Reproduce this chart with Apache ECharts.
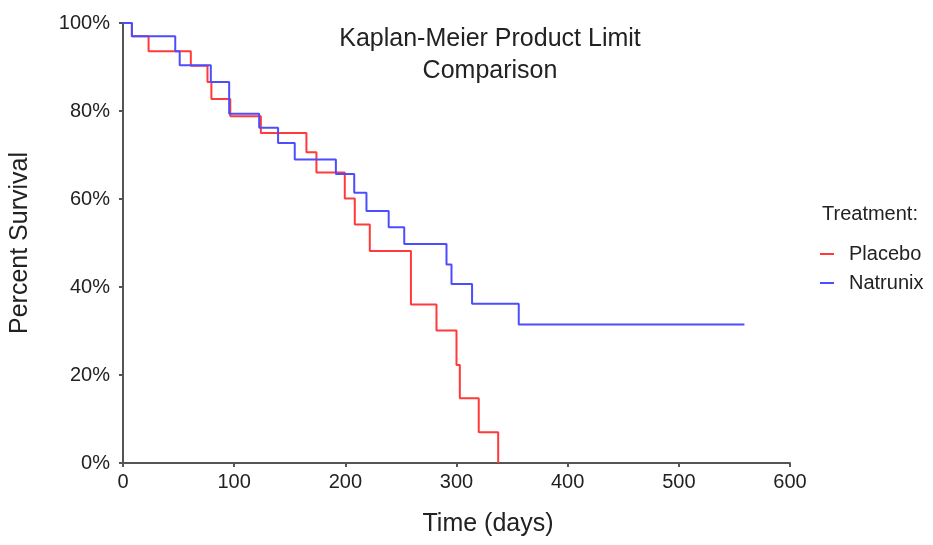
<!DOCTYPE html>
<html>
<head>
<meta charset="utf-8">
<script src="https://cdn.jsdelivr.net/npm/echarts@6/dist/echarts.min.js"></script>
<style>
  html, body { margin: 0; padding: 0; background: #fff; }
  #km-chart { width: 933px; height: 545px; }
</style>
</head>
<body>
<div id="km-chart"></div>
<script>
// survival step points: [day, percent surviving after the event]
var placeboDays = [0, 8, 23, 61, 76, 79.5, 96.5, 124, 165, 174, 199.5, 208.5, 222, 259, 282, 300, 303, 320, 337.5];
var placeboSurv = [100, 97.0, 93.6, 90.3, 86.6, 82.7, 78.8, 75.0, 70.6, 66.0, 60.1, 54.2, 48.2, 36.0, 30.1, 22.3, 14.7, 7.0, 0];

var natrunixDays = [0, 8, 47, 51, 79, 95.5, 122.5, 139.5, 154.5, 191.5, 208, 219, 239, 253, 291, 295.5, 314, 356, 559];
var natrunixSurv = [100, 97.0, 93.6, 90.4, 86.6, 79.4, 76.2, 72.7, 69.0, 65.7, 61.4, 57.3, 53.6, 49.8, 45.1, 40.7, 36.2, 31.5, 31.5];

var xTicks = [0, 100, 200, 300, 400, 500, 600];
var yTicks = [0, 20, 40, 60, 80, 100];

function pairs(xs, ys) {
  return xs.map(function (x, i) {
    return [x, ys[i]];
  });
}

var fontName = "Liberation Sans";
var chart = echarts.init(document.getElementById("km-chart"));

var option = {
  animation: false,
  backgroundColor: "#ffffff",
  grid: {
    left: 122,
    right: 143,
    top: 23,
    bottom: 82,
  },
  graphic: [
    {
      type: "text",
      x: 490,
      y: 23,
      style: {
        text: "Kaplan-Meier Product Limit\nComparison",
        font: "25px " + fontName,
        fill: "#222",
        textAlign: "center",
        lineHeight: 32,
      },
    },
    {
      type: "text",
      x: 488,
      y: 512,
      style: {
        text: "Time (days)",
        font: "25px " + fontName,
        fill: "#222",
        textAlign: "center",
      },
    },
    {
      type: "text",
      x: 822,
      y: 204,
      style: {
        text: "Treatment:",
        font: "20px " + fontName,
        fill: "#222",
      },
    },
  ],
  legend: {
    orient: "vertical",
    left: 815,
    top: 239,
    itemWidth: 14,
    itemHeight: 2,
    itemGap: 9,
    icon: "rect",
    textStyle: {
      fontFamily: fontName,
      fontSize: 20,
      color: "#222",
      padding: [0, 0, 0, 10],
    },
    data: ["Placebo", "Natrunix"],
  },
  xAxis: {
    type: "value",
    min: 0,
    max: 600,
    interval: 100,
    axisLine: { show: true, lineStyle: { color: "#555", width: 2 } },
    axisTick: { show: true, length: 4, lineStyle: { color: "#555", width: 2 } },
    axisLabel: {
      margin: 9,
      fontFamily: fontName,
      fontSize: 20,
      color: "#222",
      customValues: xTicks,
    },
    splitLine: { show: false },
  },
  yAxis: {
    type: "value",
    min: 0,
    max: 100,
    interval: 20,
    name: "Percent Survival",
    nameLocation: "middle",
    nameGap: 90,
    nameTextStyle: {
      fontFamily: fontName,
      fontSize: 25,
      color: "#222",
    },
    axisLine: { show: true, lineStyle: { color: "#555", width: 2 } },
    axisTick: { show: true, length: 4, lineStyle: { color: "#555", width: 2 } },
    axisLabel: {
      margin: 13,
      fontFamily: fontName,
      fontSize: 20,
      color: "#222",
      formatter: "{value}%",
    },
    splitLine: { show: false },
  },
  series: [
    {
      name: "Placebo",
      type: "line",
      step: "end",
      showSymbol: false,
      symbol: "none",
      itemStyle: { color: "#ff3a3a" },
      lineStyle: { color: "#ff3a3a", width: 2 },
      data: pairs(placeboDays, placeboSurv),
    },
    {
      name: "Natrunix",
      type: "line",
      step: "end",
      showSymbol: false,
      symbol: "none",
      itemStyle: { color: "#4d4dff" },
      lineStyle: { color: "#4d4dff", width: 2 },
      data: pairs(natrunixDays, natrunixSurv),
    },
  ],
};

chart.setOption(option);
</script>
</body>
</html>
